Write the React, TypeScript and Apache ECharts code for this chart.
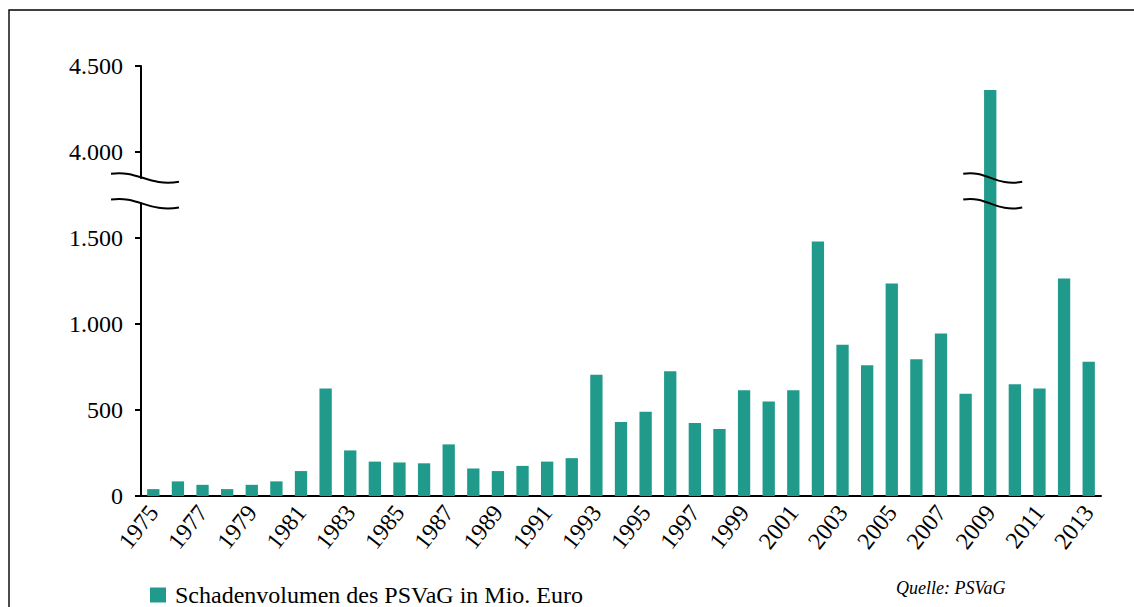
import React, { useEffect, useRef } from 'react';
import * as echarts from 'echarts';

const years = [
  '1975', '1976', '1977', '1978', '1979', '1980', '1981', '1982', '1983', '1984',
  '1985', '1986', '1987', '1988', '1989', '1990', '1991', '1992', '1993', '1994',
  '1995', '1996', '1997', '1998', '1999', '2000', '2001', '2002', '2003', '2004',
  '2005', '2006', '2007', '2008', '2009', '2010', '2011', '2012', '2013',
];

// Schadenvolumen des PSVaG in Mio. Euro
const damage = [
  40, 85, 65, 40, 65, 85, 145, 625, 265, 200,
  195, 190, 300, 160, 145, 175, 200, 220, 705, 430,
  490, 725, 425, 390, 615, 550, 615, 1480, 880, 760,
  1235, 795, 945, 595, 4360, 650, 625, 1265, 780,
];

const seriesName = 'Schadenvolumen des PSVaG in Mio. Euro';
const sourceText = 'Quelle: PSVaG';

// axis break: real values above BREAK_TO are drawn shifted down by BREAK_SHIFT
const BREAK_FROM = 1750;
const BREAK_TO = 3750;
const BREAK_SHIFT = 2000;
const BREAK_UPPER = 1850; // axis units where the upper squiggle sits
const BREAK_LOWER = 1700; // axis units where the lower squiggle sits

const toAxis = (v: number) => (v > BREAK_TO ? v - BREAK_SHIFT : v);
const fromAxis = (a: number) => (a > BREAK_FROM ? a + BREAK_SHIFT : a);
const fmt = (v: number) => String(Math.round(v)).replace(/\B(?=(\d{3})+(?!\d))/g, '.');

const FONT = '"Liberation Serif", "Times New Roman", serif';
const BAR = '#209a8b';

function squiggle(x0: number, cy: number, w: number) {
  return {
    type: 'bezierCurve',
    silent: true,
    z: 100,
    shape: {
      x1: x0, y1: cy - 4,
      cpx1: x0 + 0.4 * w, cpy1: cy - 8,
      cpx2: x0 + 0.55 * w, cpy2: cy + 9,
      x2: x0 + w, y2: cy + 4,
    },
    style: { stroke: '#000', lineWidth: 2, fill: 'none' },
  };
}

export default function App() {
  const ref = useRef<HTMLDivElement>(null);
  useEffect(() => {
    const chart = echarts.init(ref.current!, null, { renderer: 'svg' });
    chart.setOption({
      animation: false,
      grid: { left: 141, right: 33, top: 66, bottom: 111, containLabel: false },
      legend: {
        left: 145,
        top: 578,
        icon: 'rect',
        itemWidth: 16,
        itemHeight: 15,
        textStyle: { fontFamily: FONT, fontSize: 24, color: '#000', padding: [0, 0, 0, 4] },
        data: [seriesName],
      },
      xAxis: {
        type: 'category',
        data: years,
        axisLine: { lineStyle: { color: '#000', width: 2 } },
        axisTick: { interval: 0, length: 6, lineStyle: { color: '#000', width: 2 } },
        axisLabel: {
          interval: 1,
          rotate: 52,
          margin: 12,
          fontFamily: FONT,
          fontSize: 24,
          color: '#000',
        },
      },
      yAxis: {
        type: 'value',
        min: 0,
        max: 2500,
        interval: 500,
        axisLine: { show: true, lineStyle: { color: '#000', width: 2 } },
        axisTick: { show: true, length: 6, lineStyle: { color: '#000', width: 2 } },
        splitLine: { show: false },
        axisLabel: {
          margin: 18,
          fontFamily: FONT,
          fontSize: 24,
          color: '#000',
          formatter: (v: number) => fmt(fromAxis(v)),
        },
      },
      series: [
        {
          name: seriesName,
          type: 'bar',
          barWidth: '50%',
          itemStyle: { color: BAR },
          data: damage.map(toAxis),
        },
      ],
    });

    const c0 = chart.convertToPixel({ gridIndex: 0 }, [0, BREAK_UPPER]) as number[];
    const c1 = chart.convertToPixel({ gridIndex: 0 }, [1, BREAK_UPPER]) as number[];
    const band = c1[0] - c0[0];
    const axisX = c0[0] - band / 2;
    const yUp = c0[1];
    const yLow = (chart.convertToPixel({ gridIndex: 0 }, [0, BREAK_LOWER]) as number[])[1];
    const peakIdx = damage.findIndex((v) => v > BREAK_TO);
    const peakX = (chart.convertToPixel({ gridIndex: 0 }, [peakIdx, 0]) as number[])[0];

    chart.setOption({
      graphic: [
        {
          type: 'rect',
          silent: true,
          z: -10,
          shape: { x: 9, y: 10, width: 1300, height: 800 },
          style: { fill: 'none', stroke: '#000', lineWidth: 1.4 },
        },
        {
          type: 'rect',
          silent: true,
          z: 99,
          shape: { x: axisX - 3, y: yUp + 1, width: 6, height: yLow - yUp - 2 },
          style: { fill: '#fff' },
        },
        squiggle(axisX - 30, yUp, 68),
        squiggle(axisX - 30, yLow, 68),
        squiggle(peakX - 27, yUp, 59),
        squiggle(peakX - 27, yLow, 59),
        {
          type: 'text',
          silent: true,
          left: 896,
          top: 579,
          style: { text: sourceText, font: `italic 18px ${FONT}`, fill: '#000' },
        },
      ],
    });
    return () => chart.dispose();
  }, []);
  return (
    <div
      ref={ref}
      style={{ position: 'absolute', left: 0, top: 0, width: 1134, height: 607 }}
    />
  );
}
